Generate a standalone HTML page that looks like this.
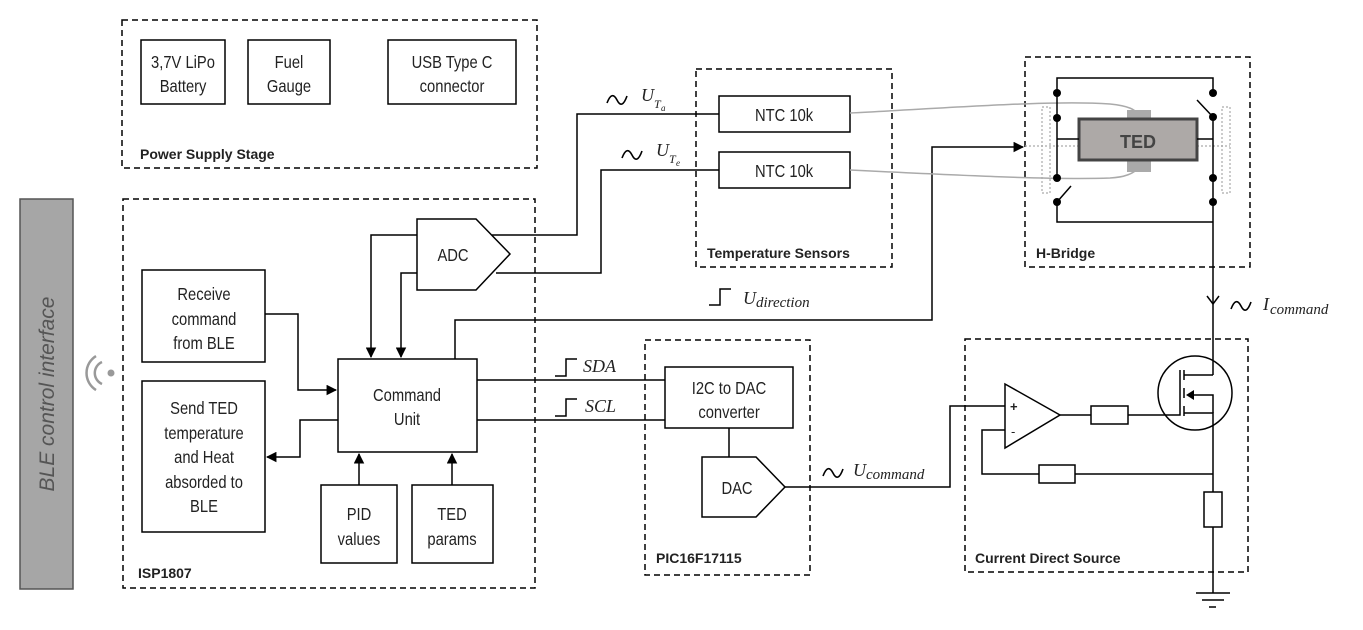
<!DOCTYPE html>
<html><head><meta charset="utf-8"><style>
html,body{margin:0;padding:0;background:#fff;}
svg{display:block;}
text{font-family:"Liberation Sans",sans-serif;font-size:18px;fill:#222;}
.n{transform-box:fill-box;transform-origin:center;transform:scaleX(0.82);}
.b{font-family:"Liberation Sans",sans-serif;font-weight:bold;font-size:14px;}
.m{font-family:"Liberation Serif",serif;font-style:italic;font-size:18px;}
.s{font-family:"Liberation Serif",serif;font-style:italic;font-size:12px;}
</style></head><body>
<svg width="1363" height="630" viewBox="0 0 1363 630" xmlns="http://www.w3.org/2000/svg">
<defs>
<marker id="a" viewBox="0 0 10 10" refX="9" refY="5" markerWidth="7" markerHeight="7" orient="auto-start-reverse"><path d="M0,0 L10,5 L0,10 z" fill="#000"/></marker>
</defs>
<g fill="none" stroke="#000" stroke-width="1.5" stroke-dasharray="6,4">
<rect x="122" y="20" width="415" height="148"/>
<rect x="123" y="199" width="412" height="389"/>
<rect x="696" y="69" width="196" height="198"/>
<rect x="1025" y="57" width="225" height="210"/>
<rect x="645" y="340" width="165" height="235"/>
<rect x="965" y="339" width="283" height="233"/>
</g>
<rect x="20" y="199" width="53" height="390" fill="#a6a6a6" stroke="#555" stroke-width="1.5"/>
<text transform="translate(54,394) rotate(-90)" text-anchor="middle" style="font-family:'Liberation Sans',sans-serif;font-style:italic;font-size:21px;fill:#555">BLE control interface</text>
<g fill="none" stroke="#999" stroke-width="2.5">
<path d="M102,362 A12,12 0 0 0 102,384"/><path d="M96,356 A20,20 0 0 0 96,390"/>
</g>
<circle cx="111" cy="373" r="3.5" fill="#999"/>
<g fill="#fff" stroke="#000" stroke-width="1.5">
<rect x="141" y="40" width="84" height="64"/>
<rect x="248" y="40" width="82" height="64"/>
<rect x="388" y="40" width="128" height="64"/>
<rect x="142" y="270" width="123" height="92"/>
<rect x="142" y="381" width="123" height="151"/>
<rect x="338" y="359" width="139" height="93"/>
<rect x="321" y="485" width="76" height="78"/>
<rect x="412" y="485" width="81" height="78"/>
<path d="M417,219 L476,219 L510,254 L476,290 L417,290 Z"/>
<rect x="719" y="96" width="131" height="36"/>
<rect x="719" y="152" width="131" height="36"/>
<rect x="665" y="367" width="128" height="61"/>
<path d="M702,457 L756,457 L785,487 L756,517 L702,517 Z"/>
</g>
<g text-anchor="middle">
<text class="n" x="183" y="68">3,7V LiPo</text><text class="n" x="183" y="92">Battery</text>
<text class="n" x="289" y="68">Fuel</text><text class="n" x="289" y="92">Gauge</text>
<text class="n" x="452" y="68">USB Type C</text><text class="n" x="452" y="92">connector</text>
<text class="n" x="204" y="300">Receive</text><text class="n" x="204" y="325">command</text><text class="n" x="204" y="349">from BLE</text>
<text class="n" x="204" y="414">Send TED</text><text class="n" x="204" y="439">temperature</text><text class="n" x="204" y="463">and Heat</text><text class="n" x="204" y="488">absorded to</text><text class="n" x="204" y="512">BLE</text>
<text class="n" x="407" y="401">Command</text><text class="n" x="407" y="425">Unit</text>
<text class="n" x="359" y="520">PID</text><text class="n" x="359" y="545">values</text>
<text class="n" x="452" y="520">TED</text><text class="n" x="452" y="545">params</text>
<text class="n" x="453" y="261">ADC</text>
<text class="n" x="784" y="121">NTC 10k</text><text class="n" x="784" y="177">NTC 10k</text>
<text class="n" x="729" y="394">I2C to DAC</text><text class="n" x="729" y="418">converter</text>
<text class="n" x="737" y="494">DAC</text>
</g>
<text class="b" x="140" y="159">Power Supply Stage</text>
<text class="b" x="138" y="578">ISP1807</text>
<text class="b" x="707" y="258">Temperature Sensors</text>
<text class="b" x="1036" y="258">H-Bridge</text>
<text class="b" x="656" y="563">PIC16F17115</text>
<text class="b" x="975" y="563">Current Direct Source</text>
<g fill="none" stroke="#000" stroke-width="1.5">
<path d="M417,235 H371 V357" marker-end="url(#a)"/>
<path d="M417,273 H401 V357" marker-end="url(#a)"/>
<path d="M265,314 H298 V390 H336" marker-end="url(#a)"/>
<path d="M338,420 H300 V457 H267" marker-end="url(#a)"/>
<path d="M359,485 V454" marker-end="url(#a)"/>
<path d="M452,485 V454" marker-end="url(#a)"/>
<path d="M455,359 V320 H932 V147 H1023" marker-end="url(#a)"/>
<path d="M492,235 H577 V114 H719"/>
<path d="M496,273 H601 V170 H719"/>
<path d="M477,380 H665"/>
<path d="M477,420 H665"/>
<path d="M729,428 V457"/>
<path d="M785,487 H950 V406 H1005"/>
<path d="M555,376 H566 V359 H577"/>
<path d="M555,416 H566 V399 H577"/>
<path d="M709,305 H720 V289 H731"/>
</g>
<g fill="none" stroke="#000" stroke-width="1.6">
<path d="M607,103 q5,-13 10,-3 q5,10 10,-4"/>
<path d="M622,158 q5,-13 10,-3 q5,10 10,-4"/>
<path d="M823,476 q5,-13 10,-3 q5,10 10,-4"/>
<path d="M1231,309 q5,-13 10,-3 q5,10 10,-4"/>
</g>
<text class="m" x="641" y="101">U</text><text class="s" x="654" y="108">T</text><text class="s" x="661" y="111" style="font-size:9px">a</text>
<text class="m" x="656" y="156">U</text><text class="s" x="669" y="163">T</text><text class="s" x="676" y="166" style="font-size:9px">e</text>
<text class="m" x="583" y="372">SDA</text>
<text class="m" x="585" y="412">SCL</text>
<text class="m" x="743" y="304">U</text><text class="m" x="756" y="307" style="font-size:15px">direction</text>
<text class="m" x="853" y="476">U</text><text class="m" x="866" y="479" style="font-size:15px">command</text>
<text class="m" x="1263" y="310">I</text><text class="m" x="1270" y="314" style="font-size:15px">command</text>
<g fill="none" stroke="#aaa" stroke-width="1.5">
<path d="M850,113 C950,108 1050,100 1110,104 C1130,106 1135,110 1138,114"/>
<path d="M850,170 C950,175 1050,180 1110,178 C1128,177 1135,172 1138,168"/>
</g>
<g fill="none" stroke="#aaa" stroke-width="1.2" stroke-dasharray="2,2">
<rect x="1042" y="107" width="8" height="86"/>
<rect x="1222" y="107" width="8" height="86"/>
<path d="M1025,146 H1230"/>
</g>
<rect x="1127" y="110" width="24" height="62" fill="#aaa"/>
<rect x="1079" y="119" width="118" height="41" fill="#ada9a7" stroke="#444" stroke-width="3"/>
<text x="1138" y="148" text-anchor="middle" style="font-family:'Liberation Sans',sans-serif;font-weight:bold;font-size:18px;fill:#444">TED</text>
<g fill="none" stroke="#000" stroke-width="1.5">
<path d="M1057,178 V78 H1213 V93"/>
<path d="M1213,117 V375"/>
<path d="M1057,139 H1079 M1197,139 H1213"/>
<path d="M1213,117 L1197,100"/>
<path d="M1057,202 L1071,186"/>
<path d="M1057,202 V222 H1213"/>
<path d="M1207,296 L1213,304 L1219,296"/>
</g>
<g fill="#000">
<circle cx="1057" cy="93" r="4"/><circle cx="1057" cy="118" r="4"/><circle cx="1057" cy="178" r="4"/><circle cx="1057" cy="202" r="4"/>
<circle cx="1213" cy="93" r="4"/><circle cx="1213" cy="117" r="4"/><circle cx="1213" cy="178" r="4"/><circle cx="1213" cy="202" r="4"/>
</g>
<g fill="none" stroke="#000" stroke-width="1.5">
<circle cx="1195" cy="393" r="37"/>
<path d="M1005,384 L1005,448 L1060,415 Z" fill="#fff"/>
<path d="M1060,415 H1091 M1128,415 H1180 V370"/>
<rect x="1091" y="406" width="37" height="18"/>
<path d="M1184,370 V380 M1184,388 V398 M1184,406 V416"/>
<path d="M1184,375 H1213 M1184,413 H1213 V492"/>
<path d="M1213,413 V395 H1190"/>
<path d="M1005,430 H982 V474 H1039 M1075,474 H1213"/>
<rect x="1039" y="465" width="36" height="18"/>
<rect x="1204" y="492" width="18" height="35"/>
<path d="M1213,527 V593 M1196,593 H1230 M1202,600 H1224 M1209,607 H1216"/>
</g>
<path d="M1186,395 L1194,390 L1194,400 Z" fill="#000"/>
<text x="1010" y="411" style="font-family:'Liberation Sans',sans-serif;font-weight:bold;font-size:13px">+</text>
<text x="1011" y="436" style="font-family:'Liberation Sans',sans-serif;font-size:13px">-</text>
</svg>
</body></html>
